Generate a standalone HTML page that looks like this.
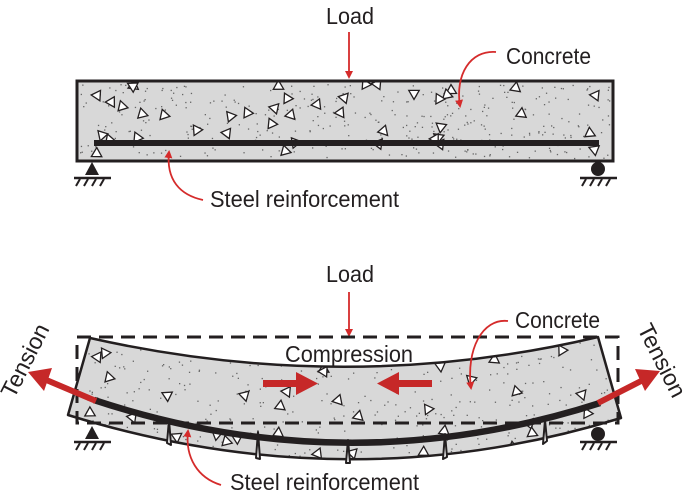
<!DOCTYPE html>
<html><head><meta charset="utf-8"><style>
html,body{margin:0;padding:0;background:#fff;}
svg{display:block;}
text{font-family:"Liberation Sans",sans-serif;fill:#231f20;}
</style></head><body>
<svg id="s" width="685" height="494" viewBox="0 0 685 494" xmlns="http://www.w3.org/2000/svg">
<defs>
<marker id="ah" markerWidth="8" markerHeight="8" refX="6" refY="4" orient="auto" markerUnits="userSpaceOnUse"><path d="M0,0 L8,4 L0,8 Z" fill="#d52b2b"/></marker>
<clipPath id="c1"><rect x="77" y="81" width="536" height="80"/></clipPath>
<clipPath id="c2"><path d="M90,338 Q348,396 598,337 L621,418 Q348,502 68,415 Z"/></clipPath>
</defs>
<rect x="77" y="81" width="536" height="80" fill="#d8d8d8"/>
<g id="agg1" clip-path="url(#c1)"></g>
<rect x="77" y="81" width="536" height="80" fill="none" stroke="#231f20" stroke-width="3"/>
<rect x="94" y="140" width="505" height="6" fill="#231f20"/>
<polygon points="92,162 85,175 99,175" fill="#231f20"/>
<line x1="74" y1="178" x2="111" y2="178" stroke="#231f20" stroke-width="2.5"/>
<g stroke="#231f20" stroke-width="2"><line x1="80" y1="179" x2="76" y2="186"/><line x1="88" y1="179" x2="84" y2="186"/><line x1="96" y1="179" x2="92" y2="186"/><line x1="104" y1="179" x2="100" y2="186"/></g>
<circle cx="598" cy="169" r="7" fill="#231f20"/>
<line x1="580" y1="178" x2="617" y2="178" stroke="#231f20" stroke-width="2.5"/>
<g stroke="#231f20" stroke-width="2"><line x1="586" y1="179" x2="582" y2="186"/><line x1="594" y1="179" x2="590" y2="186"/><line x1="602" y1="179" x2="598" y2="186"/><line x1="610" y1="179" x2="606" y2="186"/></g>
<text x="326" y="24" font-size="23" textLength="48" lengthAdjust="spacingAndGlyphs">Load</text>
<line x1="349" y1="32" x2="349" y2="77" stroke="#d52b2b" stroke-width="1.8" marker-end="url(#ah)"/>
<text x="506" y="64" font-size="23" textLength="85" lengthAdjust="spacingAndGlyphs">Concrete</text>
<path d="M496,52 C470,50 455,75 460,106" fill="none" stroke="#d52b2b" stroke-width="1.8" marker-end="url(#ah)"/>
<text x="210" y="207" font-size="23" textLength="189" lengthAdjust="spacingAndGlyphs">Steel reinforcement</text>
<path d="M203,200 C180,195 166,180 169,152" fill="none" stroke="#d52b2b" stroke-width="1.8" marker-end="url(#ah)"/>

<text x="326" y="282" font-size="23" textLength="48" lengthAdjust="spacingAndGlyphs">Load</text>
<line x1="349" y1="292" x2="349" y2="335" stroke="#d52b2b" stroke-width="1.8" marker-end="url(#ah)"/>
<path d="M90,338 Q348,396 598,337 L621,418 Q348,502 68,415 Z" fill="#d8d8d8"/>
<g id="agg2" clip-path="url(#c2)"></g>
<path d="M90,338 Q348,396 598,337 L621,418 Q348,502 68,415 Z" fill="none" stroke="#231f20" stroke-width="2.5" stroke-linejoin="round"/>
<g fill="#fff" stroke="#231f20" stroke-width="2" stroke-linejoin="round">
<path d="M167,443 L169,420 L171,445 Z"/>
<path d="M256,458 L258,432 L260,459 Z"/>
<path d="M346,463 L348,440 L350,463 Z"/>
<path d="M443,459 L445,434 L447,457 Z"/>
<path d="M543,444 L545,420 L547,441 Z"/>
</g>
<rect x="77" y="337" width="541" height="86" fill="none" stroke="#231f20" stroke-width="3" stroke-dasharray="14,8"/>
<path d="M94,400 Q348,484 600,403" fill="none" stroke="#231f20" stroke-width="6.5"/>
<line x1="96" y1="401" x2="44" y2="379" stroke="#c62828" stroke-width="6"/>
<polygon points="28,372 52,368 44,391" fill="#c62828"/>
<line x1="598" y1="403" x2="645" y2="379" stroke="#c62828" stroke-width="6"/>
<polygon points="660,371 635,369 645,391" fill="#c62828"/>
<rect x="263" y="380" width="36" height="7" fill="#c62828"/><polygon points="296,372 318,383.5 296,395" fill="#c62828"/>
<rect x="396" y="380" width="36" height="7" fill="#c62828"/><polygon points="399,372 377,383.5 399,395" fill="#c62828"/>
<text x="285" y="362" font-size="23" textLength="128" lengthAdjust="spacingAndGlyphs">Compression</text>
<text x="515" y="328" font-size="23" textLength="85" lengthAdjust="spacingAndGlyphs">Concrete</text>
<path d="M508,321 C482,318 466,350 471,388" fill="none" stroke="#d52b2b" stroke-width="1.8" marker-end="url(#ah)"/>
<text x="230" y="490" font-size="23" textLength="189" lengthAdjust="spacingAndGlyphs">Steel reinforcement</text>
<path d="M221,485 C198,478 185,458 188,431" fill="none" stroke="#d52b2b" stroke-width="1.8" marker-end="url(#ah)"/>
<text font-size="23" text-anchor="middle" transform="translate(32,364) rotate(-63)">Tension</text>
<text font-size="23" text-anchor="middle" transform="translate(655,364) rotate(63)">Tension</text>
<polygon points="92,426 85,439 99,439" fill="#231f20"/>
<line x1="74" y1="442" x2="111" y2="442" stroke="#231f20" stroke-width="2.5"/>
<g stroke="#231f20" stroke-width="2"><line x1="80" y1="443" x2="76" y2="450"/><line x1="88" y1="443" x2="84" y2="450"/><line x1="96" y1="443" x2="92" y2="450"/><line x1="104" y1="443" x2="100" y2="450"/></g>
<circle cx="598" cy="434" r="7" fill="#231f20"/>
<line x1="580" y1="442" x2="617" y2="442" stroke="#231f20" stroke-width="2.5"/>
<g stroke="#231f20" stroke-width="2"><line x1="586" y1="443" x2="582" y2="450"/><line x1="594" y1="443" x2="590" y2="450"/><line x1="602" y1="443" x2="598" y2="450"/><line x1="610" y1="443" x2="606" y2="450"/></g>
</svg>
<script>
(function(){
var seed=7;function r(){seed=(seed*16807)%2147483647;return (seed-1)/2147483646;}
function fill(id,x0,x1,y0,y1,nt,nd){
 var g=document.getElementById(id),h="";
 for(var i=0;i<nd;i++){h+='<rect x="'+(x0+r()*(x1-x0)).toFixed(1)+'" y="'+(y0+r()*(y1-y0)).toFixed(1)+'" width="1.3" height="1.3" fill="#666"/>';}
 for(var i=0;i<nt;i++){var x=x0+r()*(x1-x0),y=y0+r()*(y1-y0),a=r()*6.28,s=6;
  var p=[];for(var k=0;k<3;k++){p.push((x+s*Math.cos(a+k*2.094)).toFixed(1)+','+(y+s*Math.sin(a+k*2.094)).toFixed(1));}
  h+='<polygon points="'+p.join(' ')+'" fill="#fff" stroke="#231f20" stroke-width="1.3"/>';}
 g.innerHTML=h;
}
fill("agg1",80,611,84,158,42,380);
fill("agg2",70,620,340,460,42,420);
})();
</script>
</body></html>
